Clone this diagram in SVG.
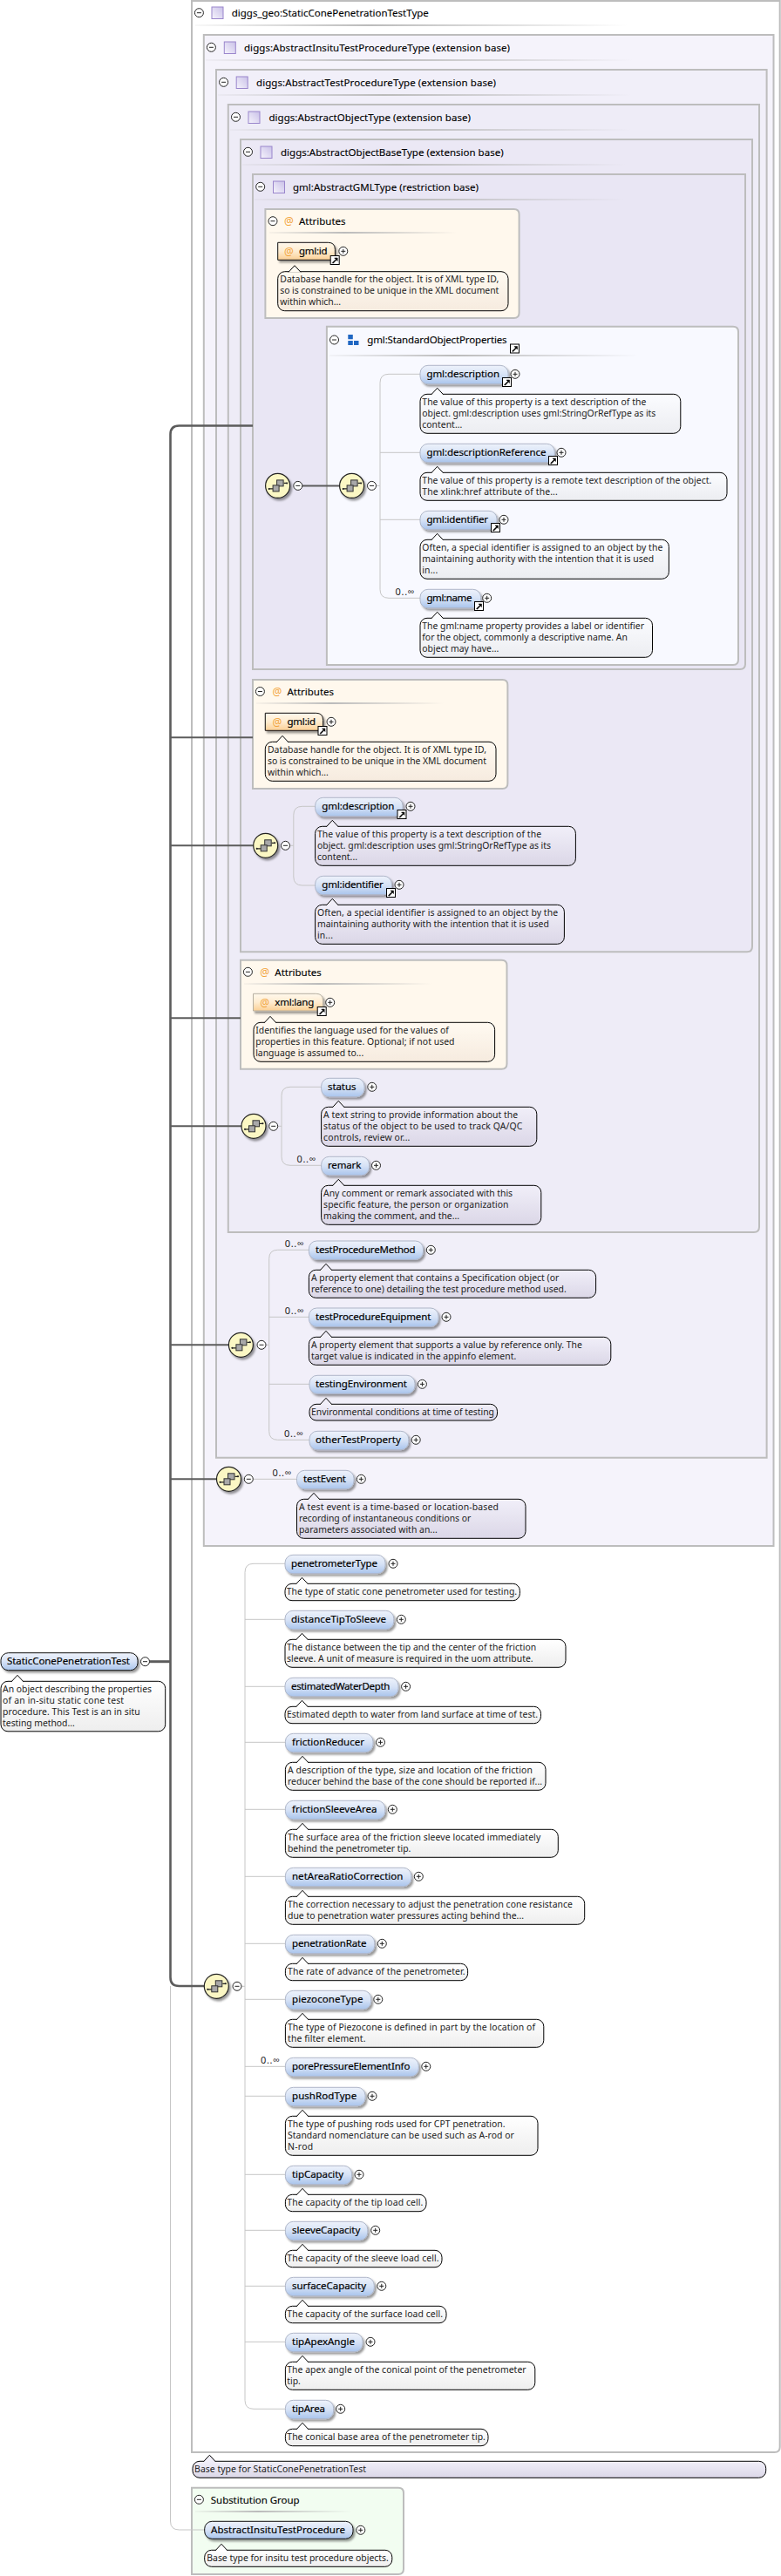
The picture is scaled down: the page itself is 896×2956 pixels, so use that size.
<svg xmlns="http://www.w3.org/2000/svg" width="896" height="2956" viewBox="0 0 896 2956">
<style>
text{font-family:"Noto Sans","Open Sans","DejaVu Sans",sans-serif;white-space:pre}
.hd{font-size:11.5px;fill:#000;stroke:#000;stroke-width:.12}
.lb{font-size:11.5px;fill:#000;stroke:#000;stroke-width:.18}
.an{font-size:10.4px;fill:#222}
.oc{font-size:11px;fill:#222}
.at{font-size:12px;fill:#f2a33a}
.box{stroke:#bdbdbd;stroke-width:2}
.nd{fill:url(#gN);stroke:#aeb6c8;stroke-width:1;filter:url(#sh)}
.nk{fill:url(#gN);stroke:#111;stroke-width:1;filter:url(#sh)}
.na{fill:url(#gA);stroke:#111;stroke-width:1;filter:url(#sh)}
.nb{fill:url(#gA);stroke:#b5aea0;stroke-width:1;filter:url(#sh)}
.aw{fill:url(#gW);stroke:#000;stroke-width:1}
.al{fill:url(#gL);stroke:#000;stroke-width:1}
.as{fill:url(#gS);stroke:#000;stroke-width:1}
.aa{fill:url(#gF);stroke:#000;stroke-width:1}
.sep{fill:url(#gSep)}
.tr{stroke:#c6c6c6;stroke-width:1;fill:none}
.th{stroke:#5c5c5c;stroke-width:2;fill:none}
</style>
<defs>
<linearGradient id="gN" x1="0" y1="0" x2="0" y2="1"><stop offset="0" stop-color="#eef2fb"/><stop offset=".5" stop-color="#d6e2f6"/><stop offset="1" stop-color="#a9c4ec"/></linearGradient>
<linearGradient id="gA" x1="0" y1="0" x2="0" y2="1"><stop offset="0" stop-color="#fff8ec"/><stop offset=".5" stop-color="#feecd0"/><stop offset="1" stop-color="#fbcf94"/></linearGradient>
<linearGradient id="gW" x1="0" y1="0" x2="0" y2="1"><stop offset="0" stop-color="#ffffff"/><stop offset="1" stop-color="#eeeeee"/></linearGradient>
<linearGradient id="gL" x1="0" y1="0" x2="0" y2="1"><stop offset="0" stop-color="#f1eff9"/><stop offset="1" stop-color="#dbd7e7"/></linearGradient>
<linearGradient id="gS" x1="0" y1="0" x2="0" y2="1"><stop offset="0" stop-color="#fbfcff"/><stop offset="1" stop-color="#ecedf1"/></linearGradient>
<linearGradient id="gF" x1="0" y1="0" x2="0" y2="1"><stop offset="0" stop-color="#fffaf1"/><stop offset="1" stop-color="#f6ebdf"/></linearGradient>
<linearGradient id="gSep"><stop offset="0" stop-color="#bbb" stop-opacity=".1"/><stop offset=".4" stop-color="#bbb"/><stop offset="1" stop-color="#bbb" stop-opacity="0"/></linearGradient>
<linearGradient id="gT" x1="0" y1="1" x2="1" y2="0"><stop offset="0" stop-color="#f6f4fc"/><stop offset="1" stop-color="#c9c0e8"/></linearGradient>
<filter id="sh" x="-10%" y="-20%" width="125%" height="160%"><feDropShadow dx="2" dy="2.5" stdDeviation="1" flood-color="#000" flood-opacity=".4"/></filter>
<g id="minus"><circle r="5" fill="#fff" stroke="#222"/><path d="M-2.5 0H2.5" stroke="#222"/></g>
<g id="plus"><circle r="5" fill="#fff" stroke="#222"/><path d="M-2.5 0H2.5M0-2.5V2.5" stroke="#222"/></g>
<g id="link"><rect x=".5" y=".5" width="10" height="10" fill="#fff" stroke="#000"/><path d="M2.5 8.5L6.5 4.5L5 3H8.5V6.5L7.3 5.3L3.5 9.2Z" fill="#000" stroke="#000" stroke-width=".5"/></g>
<g id="ty"><rect width="13" height="13.5" fill="url(#gT)" stroke="#9a86cc" stroke-width="1"/></g>
<g id="comp"><circle r="14" fill="#fbf7c4" stroke="#222" stroke-width="1.2" filter="url(#sh)"/><path d="M-10.5 3.5H-5M7 -3H11" stroke="#222" stroke-width="1.2"/><rect x="-1" y="-6.5" width="7.5" height="7" fill="#a8a8a8" stroke="#333"/><rect x="-5.5" y="-.5" width="7" height="7" fill="#a8a8a8" stroke="#333"/><circle cx="-10" cy="3.5" r="1" fill="#222"/><circle cx="10.5" cy="-3" r="1" fill="#222"/></g>
<path id="pw" d="M-7 .6L0-7L7 .6" fill="#fff" stroke="#000"/>
<path id="pl" d="M-7 .6L0-7L7 .6" fill="#f1eff9" stroke="#000"/>
<path id="ps" d="M-7 .6L0-7L7 .6" fill="#fbfcff" stroke="#000"/>
<path id="pa" d="M-7 .6L0-7L7 .6" fill="#fffaf1" stroke="#000"/>
</defs>

<g id="box-root"><path class="box" fill="#fff" d="M220 1H894.7V2808Q894.7 2814 888.7 2814H220Z"/><use href="#minus" x="228.4" y="14.7"/><use href="#ty" x="243" y="8"/><text class="hd" x="265.8" y="18.5" textLength="226">diggs_geo:StaticConePenetrationTestType</text><rect class="sep" x="224" y="28" width="496" height="2"/></g>
<g id="box-insitu"><path class="box" fill="#f5f3fb" d="M233.8 40H887.5V1774H233.8Z"/><use href="#minus" x="242.4" y="54.3"/><use href="#ty" x="257.3" y="48"/><text class="hd" x="280" y="58.5" textLength="305">diggs:AbstractInsituTestProcedureType (extension base)</text><rect class="sep" x="236" y="68" width="490" height="2"/></g>
<g id="box-test"><path class="box" fill="#f1eff9" d="M248 80H879.6V1672.7H248Z"/><use href="#minus" x="256.6" y="94.3"/><use href="#ty" x="271.2" y="88"/><text class="hd" x="294" y="98.5" textLength="275">diggs:AbstractTestProcedureType (extension base)</text><rect class="sep" x="250" y="108" width="475" height="2"/></g>
<g id="box-object"><path class="box" fill="#eeecf7" d="M261.8 120H871V1408Q871 1414 865 1414H261.8Z"/><use href="#minus" x="270.5" y="134.3"/><use href="#ty" x="285" y="128"/><text class="hd" x="308.4" y="138.5" textLength="231.6">diggs:AbstractObjectType (extension base)</text><rect class="sep" x="264" y="148" width="460" height="2"/></g>
<g id="box-base"><path class="box" fill="#ebe8f5" d="M276 160H863V1086.3Q863 1092.3 857 1092.3H276Z"/><use href="#minus" x="284.5" y="174.3"/><use href="#ty" x="299" y="168"/><text class="hd" x="322" y="178.5" textLength="255.6">diggs:AbstractObjectBaseType (extension base)</text><rect class="sep" x="278" y="188" width="440" height="2"/></g>
<g id="box-gml"><path class="box" fill="#e9e6f4" d="M290 200H855V762Q855 768 849 768H290Z"/><use href="#minus" x="298.7" y="214.3"/><use href="#ty" x="313.5" y="208"/><text class="hd" x="336" y="218.5" textLength="213">gml:AbstractGMLType (restriction base)</text><rect class="sep" x="292" y="228" width="425" height="2"/></g>
<g id="box-attr1"><path class="box" fill="#fff8ed" d="M304.4 240H589.6Q595.6 240 595.6 246V359Q595.6 365 589.6 365H304.4Z"/><use href="#minus" x="313" y="253.7"/><text class="at" x="326" y="258">@</text><text class="hd" x="343" y="257.7" textLength="53.5">Attributes</text><rect class="sep" x="309" y="266" width="215" height="2"/></g>
<g id="box-std"><path class="box" fill="#f8f9ff" d="M374.9 374.7H841Q847 374.7 847 380.7V757Q847 763 841 763H374.9Z"/><use href="#minus" x="383.5" y="390"/><path d="M399.3 384h5.5v5.3h-5.5zM399.3 391h5.5v5h-5.5zM406 391h5.5v5H406z" fill="#1f66c2"/><text class="hd" x="421.3" y="393.5" textLength="160.3">gml:StandardObjectProperties</text><use href="#link" x="585" y="394.5"/><rect class="sep" x="378" y="407" width="355" height="2"/></g>
<g id="box-attr2"><path class="box" fill="#fff8ed" d="M290 780H576.4Q582.4 780 582.4 786V899Q582.4 905 576.4 905H290Z"/><use href="#minus" x="298.4" y="793.5"/><text class="at" x="312.5" y="798">@</text><text class="hd" x="329.5" y="797.7" textLength="53.5">Attributes</text><rect class="sep" x="294" y="806" width="215" height="2"/></g>
<g id="box-attr3"><path class="box" fill="#fff8ed" d="M276 1101.7H575.5Q581.5 1101.7 581.5 1107.7V1220.7Q581.5 1226.7 575.5 1226.7H276Z"/><use href="#minus" x="284.4" y="1115.3"/><text class="at" x="298.2" y="1120">@</text><text class="hd" x="315.3" y="1119.5" textLength="53.5">Attributes</text><rect class="sep" x="280" y="1128" width="215" height="2"/></g>
<g id="box-subst"><path class="box" fill="#f2fdf1" d="M220 2854.7H457Q463 2854.7 463 2860.7V2948Q463 2954 457 2954H220Z"/><use href="#minus" x="228.4" y="2868.3"/><text class="hd" x="241.8" y="2872.5" textLength="101.8">Substitution Group</text><rect class="sep" x="224" y="2881" width="180" height="2"/></g>

<g id="connectors">
<path class="tr" stroke="#ccc" d="M195.5 2279V2893Q195.5 2903 205.5 2903H234.7"/>
<path class="th" style="stroke-width:2.6" d="M290 488.5H205.5Q195.5 488.5 195.5 498.5V2269Q195.5 2279 205.5 2279H235"/>
<path class="th" d="M195.5 846.3H290M195.5 970.3H291M195.5 1168.3H276M195.5 1292.3H277M195.5 1543.3H263M195.5 1697.3H249"/>
<path class="th" style="stroke-width:3" d="M171.5 1906.7H195.5"/>
<path class="th" d="M347 557.4H390"/>
<path class="tr" d="M431.5 557.4H436M482 429.3H446Q436 429.3 436 439.3V676.3Q436 686.3 446 686.3H482M436 519.3H482M436 596.3H482"/>
<path class="tr" d="M332.5 970.3H336.8M361.6 925.3H346.8Q336.8 925.3 336.8 935.3V1006Q336.8 1016 346.8 1016H361.6"/>
<path class="tr" d="M318.7 1292.3H323M368.6 1247.3H333Q323 1247.3 323 1257.3V1327.3Q323 1337.3 333 1337.3H368.6"/>
<path class="tr" d="M305 1543.3H308.7M354.4 1434.3H318.7Q308.7 1434.3 308.7 1444.3V1642.3Q308.7 1652.3 318.7 1652.3H355M308.7 1511.3H354.4M308.7 1588.3H355"/>
<path class="tr" d="M290.3 1697.3H340"/>
<path class="tr" d="M277 2279.3H281M327 1794.3H291Q281 1794.3 281 1804.3V2754.3Q281 2764.3 291 2764.3H327.4M281 1858.3H327M281 1935.3H327M281 1999.3H327M281 2076.3H327M281 2153.3H327M281 2230.3H327M281 2294.3H327M281 2371.3H327M281 2405.3H327M281 2495.3H327M281 2559.3H327M281 2623.3H327M281 2687.3H327"/>
</g>

<g id="compositors">
<use href="#comp" x="318.6" y="557.4"/><use href="#minus" x="341.8" y="557.4"/>
<use href="#comp" x="403.6" y="557.4"/><use href="#minus" x="426.5" y="557.4"/>
<use href="#comp" x="304.7" y="970.3"/><use href="#minus" x="327.5" y="970.3"/>
<use href="#comp" x="291" y="1292.3"/><use href="#minus" x="313.7" y="1292.3"/>
<use href="#comp" x="276.4" y="1543.3"/><use href="#minus" x="300" y="1543.3"/>
<use href="#comp" x="262.5" y="1697.3"/><use href="#minus" x="285.3" y="1697.3"/>
<use href="#comp" x="248.3" y="2279.3"/><use href="#minus" x="272" y="2279.3"/>
</g>

<g id="n-root"><rect class="nk" x="1" y="1896.7" width="157" height="20" rx="8.5"/><text class="lb" x="8" y="1910.3" textLength="141">StaticConePenetrationTest</text><use href="#minus" x="166.5" y="1906.7"/><rect class="aw" x="1" y="1929.3" width="188.7" height="57.5" rx="8"/><use href="#pw" x="20" y="1929.3"/><text class="an" x="3.1" y="1942" textLength="171">An object describing the properties</text><text class="an" x="3.1" y="1955" textLength="139">of an in-situ static cone test</text><text class="an" x="3.1" y="1968" textLength="157.6">procedure. This Test is an in situ</text><text class="an" x="3.1" y="1981" textLength="82.6">testing method...</text></g>

<g id="a-id1"><path class="na" d="M318.7 278.3H376.4Q384.4 278.3 384.4 286.3V298.3H318.7Z"/><text class="at" x="326" y="292.5">@</text><text class="lb" x="343" y="291.8" textLength="32.5">gml:id</text><use href="#link" x="378.7" y="293"/><use href="#plus" x="393.8" y="288.3"/><rect class="aa" x="318.7" y="311.7" width="264.3" height="45" rx="8"/><use href="#pa" x="338" y="311.7"/><text class="an" x="321.3" y="324.2" textLength="251">Database handle for the object. It is of XML type ID,</text><text class="an" x="321.3" y="337.2" textLength="251">so is constrained to be unique in the XML document</text><text class="an" x="321.3" y="350.2" textLength="69.8">within which...</text></g>

<g id="e-desc1"><rect class="nd" x="482" y="419.3" width="101" height="21.4" rx="9"/><text class="lb" x="489.4" y="433.3" textLength="83.6">gml:description</text><use href="#link" x="576" y="433"/><use href="#plus" x="591" y="429.3"/><rect class="as" x="482" y="452.3" width="298.8" height="45" rx="8"/><use href="#ps" x="501.7" y="452.3"/><text class="an" x="484.3" y="465" textLength="257">The value of this property is a text description of the</text><text class="an" x="484.3" y="478" textLength="268">object. gml:description uses gml:StringOrRefType as its</text><text class="an" x="484.3" y="491" textLength="46">content...</text></g>
<g id="e-descref"><rect class="nd" x="482" y="509.3" width="154.3" height="21.4" rx="9"/><text class="lb" x="489.4" y="523.3" textLength="137">gml:descriptionReference</text><use href="#link" x="629" y="523"/><use href="#plus" x="644" y="519.3"/><rect class="as" x="482" y="542.3" width="352" height="32" rx="8"/><use href="#ps" x="501.7" y="542.3"/><text class="an" x="484.3" y="555" textLength="332">The value of this property is a remote text description of the object.</text><text class="an" x="484.3" y="568" textLength="155.5">The xlink:href attribute of the...</text></g>
<g id="e-ident1"><rect class="nd" x="482" y="586.3" width="88" height="21.4" rx="9"/><text class="lb" x="489.4" y="600.3" textLength="70.6">gml:identifier</text><use href="#link" x="563" y="600"/><use href="#plus" x="578" y="596.3"/><rect class="as" x="482" y="619.3" width="285.4" height="45" rx="8"/><use href="#ps" x="501.7" y="619.3"/><text class="an" x="484.3" y="632" textLength="276">Often, a special identifier is assigned to an object by the</text><text class="an" x="484.3" y="645" textLength="265.8">maintaining authority with the intention that it is used</text><text class="an" x="484.3" y="658" textLength="18">in...</text></g>
<g id="e-name"><text class="oc" x="453.6" y="683.3" textLength="22">0..∞</text><rect class="nd" x="482" y="676.3" width="69.6" height="21.4" rx="9"/><text class="lb" x="489.4" y="690.3" textLength="52">gml:name</text><use href="#link" x="544" y="690"/><use href="#plus" x="558.7" y="686.3"/><rect class="as" x="482" y="709.3" width="266.5" height="45" rx="8"/><use href="#ps" x="501.7" y="709.3"/><text class="an" x="484.3" y="722" textLength="254.7">The gml:name property provides a label or identifier</text><text class="an" x="484.3" y="735" textLength="235.5">for the object, commonly a descriptive name. An</text><text class="an" x="484.3" y="748" textLength="88">object may have...</text></g>

<g id="a-id2"><path class="na" d="M304.3 818.3H362.6Q370.6 818.3 370.6 826.3V838.3H304.3Z"/><text class="at" x="312.5" y="832.5">@</text><text class="lb" x="329.5" y="831.8" textLength="32.5">gml:id</text><use href="#link" x="364.5" y="833"/><use href="#plus" x="380" y="828.3"/><rect class="aa" x="304.3" y="851.3" width="264.7" height="45" rx="8"/><use href="#pa" x="324" y="851.3"/><text class="an" x="307" y="864.2" textLength="251">Database handle for the object. It is of XML type ID,</text><text class="an" x="307" y="877.2" textLength="251">so is constrained to be unique in the XML document</text><text class="an" x="307" y="890.2" textLength="69.8">within which...</text></g>

<g id="e-desc2"><rect class="nd" x="361.6" y="915.3" width="100.4" height="21.4" rx="9"/><text class="lb" x="369.3" y="929.3" textLength="83">gml:description</text><use href="#link" x="455.5" y="929"/><use href="#plus" x="471" y="925.3"/><rect class="al" x="361.6" y="948.3" width="298.8" height="45" rx="8"/><use href="#pl" x="381.3" y="948.3"/><text class="an" x="364" y="961" textLength="257">The value of this property is a text description of the</text><text class="an" x="364" y="974" textLength="268">object. gml:description uses gml:StringOrRefType as its</text><text class="an" x="364" y="987" textLength="46">content...</text></g>
<g id="e-ident2"><rect class="nd" x="361.6" y="1005.3" width="87.8" height="21.4" rx="9"/><text class="lb" x="369.3" y="1019.3" textLength="70.4">gml:identifier</text><use href="#link" x="443" y="1019"/><use href="#plus" x="458" y="1015.3"/><rect class="al" x="361.6" y="1038.3" width="285.8" height="45" rx="8"/><use href="#pl" x="381.3" y="1038.3"/><text class="an" x="364" y="1051" textLength="276">Often, a special identifier is assigned to an object by the</text><text class="an" x="364" y="1064" textLength="265.8">maintaining authority with the intention that it is used</text><text class="an" x="364" y="1077" textLength="18">in...</text></g>

<g id="a-lang"><path class="nb" d="M290.5 1140.3H362.6Q370.6 1140.3 370.6 1148.3V1160H290.5Z"/><text class="at" x="298.2" y="1154.5">@</text><text class="lb" x="315.3" y="1153.8" textLength="45">xml:lang</text><use href="#link" x="363.7" y="1155"/><use href="#plus" x="378.7" y="1150.3"/><rect class="aa" x="291" y="1173.3" width="276.6" height="45" rx="8"/><use href="#pa" x="310" y="1173.3"/><text class="an" x="293.2" y="1186" textLength="221.6">Identifies the language used for the values of</text><text class="an" x="293.2" y="1199" textLength="228.3">properties in this feature. Optional; if not used</text><text class="an" x="293.2" y="1212" textLength="124">language is assumed to...</text></g>

<g id="e-status"><rect class="nd" x="368.6" y="1237.3" width="49.4" height="21.4" rx="9"/><text class="lb" x="376" y="1251.3" textLength="32.4">status</text><use href="#plus" x="426.8" y="1247.3"/><rect class="al" x="368.6" y="1270.3" width="247.2" height="45" rx="8"/><use href="#pl" x="388.3" y="1270.3"/><text class="an" x="371.1" y="1283" textLength="223">A text string to provide information about the</text><text class="an" x="371.1" y="1296" textLength="228.3">status of the object to be used to track QA/QC</text><text class="an" x="371.1" y="1309" textLength="99.3">controls, review or...</text></g>
<g id="e-remark"><text class="oc" x="340.5" y="1334.3" textLength="22">0..∞</text><rect class="nd" x="368.6" y="1327.3" width="55" height="21.4" rx="9"/><text class="lb" x="376" y="1341.3" textLength="38.3">remark</text><use href="#plus" x="431.5" y="1337.3"/><rect class="al" x="368.6" y="1360.3" width="252.2" height="45" rx="8"/><use href="#pl" x="388.3" y="1360.3"/><text class="an" x="371.1" y="1373" textLength="217">Any comment or remark associated with this</text><text class="an" x="371.1" y="1386" textLength="212.4">specific feature, the person or organization</text><text class="an" x="371.1" y="1399" textLength="156">making the comment, and the...</text></g>

<g id="e-method"><text class="oc" x="326.7" y="1431.3" textLength="22">0..∞</text><rect class="nd" x="354.4" y="1424" width="131.1" height="21.4" rx="9"/><text class="lb" x="362" y="1438.3" textLength="114.7">testProcedureMethod</text><use href="#plus" x="494.3" y="1434.3"/><rect class="al" x="354.4" y="1457.3" width="329.2" height="32" rx="8"/><use href="#pl" x="374" y="1457.3"/><text class="an" x="356.9" y="1470" textLength="284.4">A property element that contains a Specification object (or</text><text class="an" x="356.9" y="1483" textLength="292.8">reference to one) detailing the test procedure method used.</text></g>
<g id="e-equip"><text class="oc" x="326.7" y="1508.3" textLength="22">0..∞</text><rect class="nd" x="354.4" y="1501" width="148.6" height="21.4" rx="9"/><text class="lb" x="362" y="1515.3" textLength="132.3">testProcedureEquipment</text><use href="#plus" x="512" y="1511.3"/><rect class="al" x="354.4" y="1534.3" width="346.4" height="32" rx="8"/><use href="#pl" x="374" y="1534.3"/><text class="an" x="356.9" y="1547" textLength="311">A property element that supports a value by reference only. The</text><text class="an" x="356.9" y="1560" textLength="235.4">target value is indicated in the appinfo element.</text></g>
<g id="e-env"><rect class="nd" x="355" y="1578.3" width="121" height="21" rx="9"/><text class="lb" x="362" y="1592.3" textLength="105">testingEnvironment</text><use href="#plus" x="484.4" y="1588.3"/><rect class="al" x="355" y="1611.3" width="215.5" height="18.7" rx="8"/><use href="#pl" x="374" y="1611.3"/><text class="an" x="357.1" y="1624" textLength="209.9">Environmental conditions at time of testing</text></g>
<g id="e-other"><text class="oc" x="326" y="1649.3" textLength="22">0..∞</text><rect class="nd" x="355" y="1642.3" width="113.8" height="21.4" rx="9"/><text class="lb" x="362" y="1656.3" textLength="97.8">otherTestProperty</text><use href="#plus" x="477.2" y="1652.3"/></g>
<g id="e-event"><text class="oc" x="312.5" y="1694.3" textLength="22">0..∞</text><rect class="nd" x="340.5" y="1687.3" width="65.5" height="21.4" rx="9"/><text class="lb" x="348" y="1701.3" textLength="49">testEvent</text><use href="#plus" x="414.3" y="1697.3"/><rect class="al" x="340.5" y="1720.3" width="262.5" height="45" rx="8"/><use href="#pl" x="360" y="1720.3"/><text class="an" x="342.9" y="1733" textLength="229">A test event is a time-based or location-based</text><text class="an" x="342.9" y="1746" textLength="197.3">recording of instantaneous conditions or</text><text class="an" x="342.9" y="1759" textLength="158.9">parameters associated with an...</text></g>

<g id="e-penetrometer"><rect class="nd" x="327" y="1784.3" width="115" height="21.4" rx="9"/><text class="lb" x="334" y="1798.3" textLength="99">penetrometerType</text><use href="#plus" x="451" y="1794.3"/><rect class="aw" x="327" y="1817.3" width="269.4" height="19.4" rx="8"/><use href="#pw" x="346.5" y="1817.3"/><text class="an" x="328.8" y="1830" textLength="264.3">The type of static cone penetrometer used for testing.</text></g>
<g id="e-distance"><rect class="nd" x="327" y="1848.3" width="124.8" height="21.4" rx="9"/><text class="lb" x="334" y="1862.3" textLength="109">distanceTipToSleeve</text><use href="#plus" x="460.3" y="1858.3"/><rect class="aw" x="327" y="1881.3" width="322" height="32" rx="8"/><use href="#pw" x="346.5" y="1881.3"/><text class="an" x="329" y="1894" textLength="286.2">The distance between the tip and the center of the friction</text><text class="an" x="329" y="1907" textLength="282.6">sleeve. A unit of measure is required in the uom attribute.</text></g>
<g id="e-water"><rect class="nd" x="327" y="1925.3" width="130" height="21.4" rx="9"/><text class="lb" x="334" y="1939.3" textLength="113.3">estimatedWaterDepth</text><use href="#plus" x="465.6" y="1935.3"/><rect class="aw" x="327" y="1958.3" width="293.5" height="19.4" rx="8"/><use href="#pw" x="346.5" y="1958.3"/><text class="an" x="329" y="1971" textLength="288">Estimated depth to water from land surface at time of test.</text></g>
<g id="e-reducer"><rect class="nd" x="327.4" y="1989.3" width="100.6" height="21.4" rx="9"/><text class="lb" x="335" y="2003.3" textLength="83">frictionReducer</text><use href="#plus" x="436.5" y="1999.3"/><rect class="aw" x="327.4" y="2022.3" width="298.6" height="32" rx="8"/><use href="#pw" x="347" y="2022.3"/><text class="an" x="330" y="2035" textLength="280.8">A description of the type, size and location of the friction</text><text class="an" x="330" y="2048" textLength="292">reducer behind the base of the cone should be reported if...</text></g>
<g id="e-sleevearea"><rect class="nd" x="327.4" y="2066.3" width="114.4" height="21.4" rx="9"/><text class="lb" x="335" y="2080.3" textLength="97.5">frictionSleeveArea</text><use href="#plus" x="450.3" y="2076.3"/><rect class="aw" x="327.4" y="2099.3" width="312.9" height="32" rx="8"/><use href="#pw" x="347" y="2099.3"/><text class="an" x="330" y="2112" textLength="290.2">The surface area of the friction sleeve located immediately</text><text class="an" x="330" y="2125" textLength="141.3">behind the penetrometer tip.</text></g>
<g id="e-netarea"><rect class="nd" x="327.4" y="2143.3" width="144.4" height="21.4" rx="9"/><text class="lb" x="335" y="2157.3" textLength="127.4">netAreaRatioCorrection</text><use href="#plus" x="480.3" y="2153.3"/><rect class="aw" x="327.4" y="2176.3" width="343.3" height="32" rx="8"/><use href="#pw" x="347" y="2176.3"/><text class="an" x="330" y="2189" textLength="326.9">The correction necessary to adjust the penetration cone resistance</text><text class="an" x="330" y="2202" textLength="271">due to penetration water pressures acting behind the...</text></g>
<g id="e-rate"><rect class="nd" x="327.4" y="2220.3" width="102.4" height="21.4" rx="9"/><text class="lb" x="335" y="2234.3" textLength="85.4">penetrationRate</text><use href="#plus" x="438.3" y="2230.3"/><rect class="aw" x="327.4" y="2253.3" width="209.2" height="19.4" rx="8"/><use href="#pw" x="347" y="2253.3"/><text class="an" x="330" y="2266" textLength="203.5">The rate of advance of the penetrometer.</text></g>
<g id="e-piezo"><rect class="nd" x="327.4" y="2284.3" width="98.3" height="21.4" rx="9"/><text class="lb" x="335" y="2298.3" textLength="81.4">piezoconeType</text><use href="#plus" x="433.8" y="2294.3"/><rect class="aw" x="327.4" y="2317.3" width="296.4" height="32" rx="8"/><use href="#pw" x="347" y="2317.3"/><text class="an" x="330" y="2330" textLength="284">The type of Piezocone is defined in part by the location of</text><text class="an" x="330" y="2343" textLength="89.5">the filter element.</text></g>
<g id="e-pore"><text class="oc" x="299" y="2368.3" textLength="22">0..∞</text><rect class="nd" x="327.4" y="2361.3" width="152.9" height="21.4" rx="9"/><text class="lb" x="335" y="2375.3" textLength="135.4">porePressureElementInfo</text><use href="#plus" x="488.8" y="2371.3"/></g>
<g id="e-rod"><rect class="nd" x="327.4" y="2395.3" width="91.6" height="21.4" rx="9"/><text class="lb" x="335" y="2409.3" textLength="74.2">pushRodType</text><use href="#plus" x="427" y="2405.3"/><rect class="aw" x="327.4" y="2428.3" width="289.6" height="45" rx="8"/><use href="#pw" x="347" y="2428.3"/><text class="an" x="330" y="2441" textLength="249.5">The type of pushing rods used for CPT penetration.</text><text class="an" x="330" y="2454" textLength="259.8">Standard nomenclature can be used such as A-rod or</text><text class="an" x="330" y="2467" textLength="29.1">N-rod</text></g>
<g id="e-tipcap"><rect class="nd" x="327.4" y="2485.3" width="76.2" height="21.4" rx="9"/><text class="lb" x="335" y="2499.3" textLength="59.2">tipCapacity</text><use href="#plus" x="412" y="2495.3"/><rect class="aw" x="327.4" y="2518.3" width="161.6" height="19.4" rx="8"/><use href="#pw" x="347" y="2518.3"/><text class="an" x="329.3" y="2531" textLength="156">The capacity of the tip load cell.</text></g>
<g id="e-sleevecap"><rect class="nd" x="327.4" y="2549.3" width="94.4" height="21.4" rx="9"/><text class="lb" x="335" y="2563.3" textLength="78.3">sleeveCapacity</text><use href="#plus" x="430.7" y="2559.3"/><rect class="aw" x="327.4" y="2582.3" width="179.6" height="19.4" rx="8"/><use href="#pw" x="347" y="2582.3"/><text class="an" x="329.3" y="2595" textLength="174.3">The capacity of the sleeve load cell.</text></g>
<g id="e-surfcap"><rect class="nd" x="327.4" y="2613.3" width="101.9" height="21.4" rx="9"/><text class="lb" x="335" y="2627.3" textLength="85">surfaceCapacity</text><use href="#plus" x="437.8" y="2623.3"/><rect class="aw" x="327.4" y="2646.3" width="184.6" height="19.4" rx="8"/><use href="#pw" x="347" y="2646.3"/><text class="an" x="329.3" y="2659" textLength="178.7">The capacity of the surface load cell.</text></g>
<g id="e-apex"><rect class="nd" x="327.4" y="2677.3" width="88.6" height="21.4" rx="9"/><text class="lb" x="335" y="2691.3" textLength="72">tipApexAngle</text><use href="#plus" x="425" y="2687.3"/><rect class="aw" x="327.4" y="2710.3" width="286.4" height="32" rx="8"/><use href="#pw" x="347" y="2710.3"/><text class="an" x="329.3" y="2723" textLength="274.3">The apex angle of the conical point of the penetrometer</text><text class="an" x="329.3" y="2736" textLength="15.6">tip.</text></g>
<g id="e-tiparea"><rect class="nd" x="327.4" y="2754.3" width="55.3" height="21.4" rx="9"/><text class="lb" x="335" y="2768.3" textLength="38">tipArea</text><use href="#plus" x="390.7" y="2764.3"/><rect class="aw" x="327.4" y="2787.3" width="232.6" height="19.4" rx="8"/><use href="#pw" x="347" y="2787.3"/><text class="an" x="329.3" y="2800" textLength="227.6">The conical base area of the penetrometer tip.</text></g>

<g id="base-note"><rect class="al" x="221" y="2824.3" width="657.7" height="19" rx="8"/><use href="#pl" x="240.4" y="2824.3"/><text class="an" x="223.1" y="2837" textLength="196.9">Base type for StaticConePenetrationTest</text></g>

<g id="e-abstract"><rect class="nk" x="234.7" y="2893.3" width="170.3" height="20" rx="8.5"/><text class="lb" x="242" y="2907" textLength="154">AbstractInsituTestProcedure</text><use href="#plus" x="413.8" y="2903.3"/><rect class="aw" x="234.7" y="2926.3" width="215.1" height="19" rx="8"/><use href="#pw" x="254" y="2926.3"/><text class="an" x="237.3" y="2939" textLength="208.5">Base type for insitu test procedure objects.</text></g>
</svg>
